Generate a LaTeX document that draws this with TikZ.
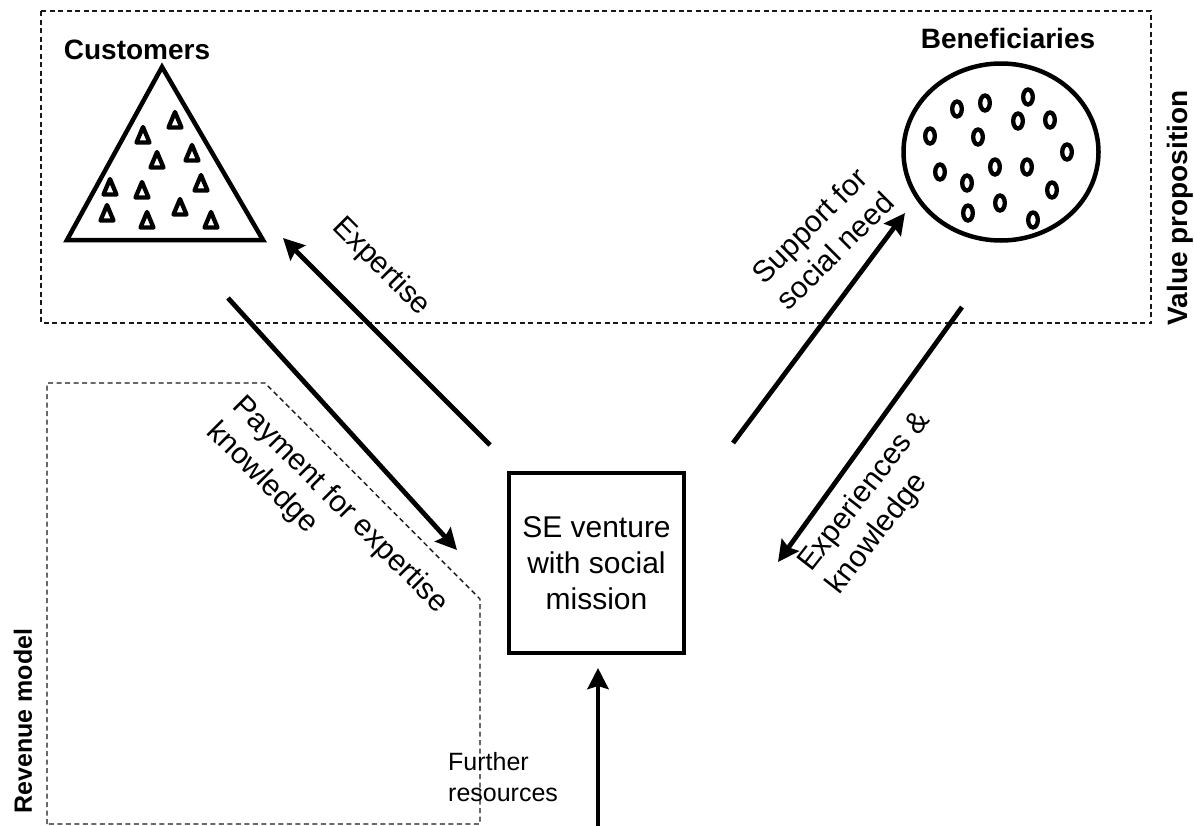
\documentclass[tikz,border=0pt]{standalone}
\usepackage{fontspec}
\setmainfont{Liberation Sans}
\usetikzlibrary{arrows.meta,shapes.geometric}
\begin{document}
\begin{tikzpicture}[x=1pt,y=-1pt,
  dashbox/.style={draw=black!90, line width=1.4pt, dash pattern=on 5pt off 3.5pt},
  flow/.style={line width=4.8pt, -{Stealth[length=21pt,width=21pt,inset=3pt]}},
  lbl/.style={font=\fontsize{30}{36}\selectfont, inner sep=0pt},
  frlbl/.style={font=\fontsize{25}{31}\selectfont, inner sep=0pt},
  title/.style={font=\bfseries\fontsize{28}{33}\selectfont, inner sep=0pt},
  mini/.style={line width=4.3pt, line join=round},
  dot/.style={line width=4.3pt},
  thick4/.style={line width=4.5pt}
]
\useasboundingbox (0,0) rectangle (1194,825);
\fill[white] (0,0) rectangle (1194,825);

% regions
\draw[dashbox] (41,11) rectangle (1151,323);
\draw[dashbox] (47,824) -- (47,383) -- (265,383) -- (480,599) -- (480,824) -- cycle;
\node[title, rotate=90] (vp) at (1180,208) {Value proposition};
\node[title, rotate=90, font=\bfseries\fontsize{25}{30}\selectfont] (rm) at (23,721) {Revenue model};

% customers
\node[title] (custlbl) at (137,50) {Customers};
\draw[thick4, line join=miter] (162,67) -- (263,240) -- (67,240) -- cycle;
\foreach \x/\y in {175/120,143/135,157/160,192/153,201/183,110/187,142/190,107/213,180/207,147/220,211/220}
  \draw[mini] (\x,\y-8) -- (\x+6.5,\y+7.5) -- (\x-6.5,\y+7.5) -- cycle;

% beneficiaries
\node[title] (benlbl) at (1008,38) {Beneficiaries};
\node[draw, thick4, ellipse, minimum width=195pt, minimum height=177pt, inner sep=0pt] (ben) at (1001,152) {};
\foreach \x/\y in {930/136,957/109,985/103,1028/97,1018/121,1050/120,978/137,1067/152,940/172,967/183,995/167,1027/167,1052/190,1000/203,968/213,1033/220}
  \draw[dot] (\x,\y) ellipse [x radius=4.8, y radius=7.5];

% SE venture
\node[draw, thick4, minimum width=175pt, minimum height=180pt, lbl, align=center] (se) at (596.5,563) {SE venture\\with social\\mission};

% arrows
\coordinate (expT) at (490,445); \coordinate (expH) at (283,238);
\coordinate (payT) at (228,298); \coordinate (payH) at (457,550);
\coordinate (supT) at (733,443); \coordinate (supH) at (905,213);
\coordinate (ekT) at (962,307);  \coordinate (ekH) at (778,562);
\coordinate (frT) at (598,826);  \coordinate (frH) at (598,668);
\draw[flow] (expT) -- (expH);
\draw[flow] (payT) -- (payH);
\draw[flow] (supT) -- (supH);
\draw[flow] (ekT) -- (ekH);
\draw[flow] (frT) -- (frH);

% labels
\node[lbl, rotate=-45] (expl) at (381,267) {Expertise};
\node[lbl, rotate=-45, align=left] (payl) at (327,518) {Payment for expertise\\knowledge};
\node[lbl, rotate=45, align=center] (supl) at (822,238) {Support for\\social need};
\node[lbl, rotate=52, align=left] (ekl) at (879,503) {Experiences \&\\knowledge};
\node[frlbl, align=left, anchor=west] (frl) at (448,777) {Further\\resources};
\end{tikzpicture}
\end{document}
